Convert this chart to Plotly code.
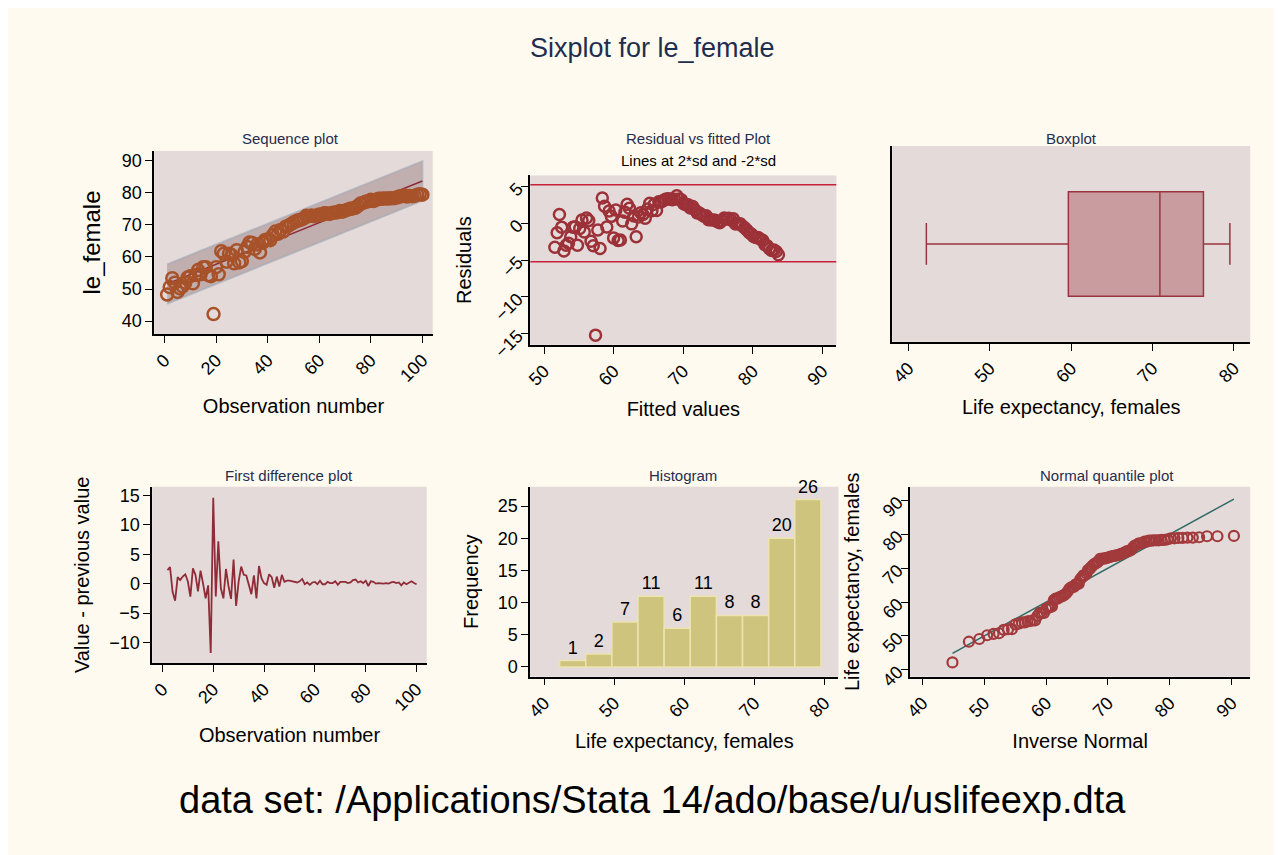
import numpy as np
import plotly.graph_objects as go
from statistics import NormalDist

le_female = [48.3,50.6,53.4,52.0,49.1,50.2,50.8,52.0,53.6,54.0,51.8,54.4,55.9,54.6,56.8,56.8,54.3,54.0,42.2,56.8,
             54.6,61.8,61.0,58.5,61.0,60.6,58.0,62.1,58.3,58.7,61.6,63.1,64.5,64.3,62.5,63.9,61.4,64.4,65.3,65.4,
             65.2,66.8,67.9,67.2,68.4,67.9,69.4,69.7,70.2,70.7,71.1,71.4,71.6,72.0,72.8,72.7,72.9,72.7,72.9,73.2,
             73.1,73.6,73.5,73.4,73.7,73.8,73.9,74.3,74.1,74.4,74.7,75.0,75.1,75.3,75.9,76.6,76.8,77.2,77.3,77.8,
             77.4,77.8,78.1,78.1,78.2,78.2,78.2,78.3,78.3,78.5,78.8,78.9,79.1,78.8,79.0,78.9,79.0,79.4,79.5,79.4]
hist_counts = [1, 2, 7, 11, 6, 11, 8, 8, 20, 26]

y = np.array(le_female)
n = len(y)
obs = np.arange(1, n + 1)
b, a = np.polyfit(obs, y, 1)
fit = a + b * obs
res = y - fit
sd = res.std(ddof=1)

PT = "#fffaef"; PB = "#e4dada"; PTS = "#a8522a"; LN = "#8f2c38"; NAVY = "#1f2d4e"
W, H = 1282, 855
def dx(p0, p1): return [p0 / W, p1 / W]
def dy(p0, p1): return [1 - p1 / H, 1 - p0 / H]

fig = go.Figure()
# 1 sequence plot
band = 1.96 * sd * 1.2
fig.add_trace(go.Scatter(x=np.r_[obs, obs[::-1]], y=np.r_[fit + band, (fit - band)[::-1]],
                         fill="toself", fillcolor="rgba(150,120,120,0.45)", line=dict(color="rgba(160,170,180,0.6)", width=2),
                         xaxis="x", yaxis="y", hoverinfo="skip"))
fig.add_trace(go.Scatter(x=obs, y=fit, mode="lines", line=dict(color=LN, width=1.5), xaxis="x", yaxis="y"))
fig.add_trace(go.Scatter(x=obs, y=y, mode="markers", marker=dict(symbol="circle-open", size=12, color=PTS, line=dict(width=2.5)),
                         xaxis="x", yaxis="y"))
# 2 residual vs fitted
fig.add_trace(go.Scatter(x=fit, y=res, mode="markers", marker=dict(symbol="circle-open", size=11, color="#9c3138", line=dict(width=2.5)),
                         xaxis="x2", yaxis="y2"))
for v in (2 * sd, -2 * sd):
    fig.add_trace(go.Scatter(x=[48, 92], y=[v, v], mode="lines", line=dict(color="#c8203a", width=1.5), xaxis="x2", yaxis="y2"))
# 3 boxplot
fig.add_trace(go.Box(x=y, y0=0, orientation="h", fillcolor="#c99ca0", line=dict(color="#9a3440", width=1.5), boxpoints=False,
                     whiskerwidth=0.4, width=0.8, xaxis="x3", yaxis="y3"))
# 4 first difference
d = np.diff(y)
fig.add_trace(go.Scatter(x=obs[1:], y=d, mode="lines", line=dict(color=LN, width=1.8), xaxis="x4", yaxis="y4"))
# 5 histogram
wbin = (y.max() - y.min()) / len(hist_counts)
centers = y.min() + wbin * (np.arange(len(hist_counts)) + 0.5)
fig.add_trace(go.Bar(x=centers, y=hist_counts, width=wbin, marker=dict(color="#cfc47e", line=dict(color="#ebe3b0", width=1.5)),
                     text=[str(c) for c in hist_counts], textposition="outside", textfont=dict(size=18, color="black"),
                     cliponaxis=False, xaxis="x5", yaxis="y5"))
# 6 normal quantile
ys = np.sort(y)
nd = NormalDist(y.mean(), y.std(ddof=1))
q = np.array([nd.inv_cdf(i / (n + 1)) for i in range(1, n + 1)])
fig.add_trace(go.Scatter(x=[q.min(), q.max()], y=[q.min(), q.max()], mode="lines", line=dict(color="#2f6b64", width=1.5),
                         xaxis="x6", yaxis="y6"))
fig.add_trace(go.Scatter(x=q, y=ys, mode="markers", marker=dict(symbol="circle-open", size=10, color="#a23a3c", line=dict(width=2.2)),
                         xaxis="x6", yaxis="y6"))

FONT = "Liberation Sans, Arial, sans-serif"
def ax(domain, title=None, tickvals=None, rng=None, angle=0, anchor=None, tsize=20, show=True):
    d = dict(domain=domain, showgrid=False, zeroline=False, showline=show, linecolor="black", linewidth=1.5,
             ticks="outside" if show else "", ticklen=7, tickcolor="black", tickfont=dict(size=18, color="black"),
             tickangle=angle, anchor=anchor, mirror=False, fixedrange=True)
    if tickvals is not None: d["tickvals"] = tickvals
    else: d["showticklabels"] = False
    if rng: d["range"] = rng
    if title: d["title"] = dict(text=title, font=dict(size=tsize, color="black"), standoff=14)
    return d

lay = dict(
    width=W, height=H, paper_bgcolor=PT, plot_bgcolor=PB, showlegend=False, margin=dict(l=0, r=0, t=0, b=0),
    font=dict(family=FONT),
    xaxis=ax(dx(140, 420), "Observation number", [0, 20, 40, 60, 80, 100], [-4, 104], -45, "y"),
    yaxis=ax(dy(145, 332), "le_female", [40, 50, 60, 70, 80, 90], [36, 93], 0, "x", tsize=24),
    xaxis2=ax(dx(518, 826), "Fitted values", [50, 60, 70, 80, 90], [48, 92], -45, "y2"),
    yaxis2=ax(dy(170, 343), "Residuals", [-15, -10, -5, 0, 5], [-16.5, 6.5], -45, "x2"),
    xaxis3=ax(dx(882, 1242), "Life expectancy, females", [40, 50, 60, 70, 80], [38, 82], -45, "y3"),
    yaxis3=ax(dy(140, 340), None, None, [-0.75, 0.75], 0, "x3"),
    xaxis4=ax(dx(138, 414), "Observation number", [0, 20, 40, 60, 80, 100], [-4, 104], -45, "y4"),
    yaxis4=ax(dy(488, 668), "Value - previous value", [-10, -5, 0, 5, 10, 15], [-13.5, 16.5], 0, "x4"),
    xaxis5=ax(dx(518, 828), "Life expectancy, females", [40, 50, 60, 70, 80], [38, 82], -45, "y5"),
    yaxis5=ax(dy(488, 682), "Frequency", [0, 5, 10, 15, 20, 25], [-1.5, 28], 0, "x5"),
    xaxis6=ax(dx(900, 1242), "Inverse Normal", [40, 50, 60, 70, 80, 90], [38, 93], -45, "y6"),
    yaxis6=ax(dy(488, 682), "Life expectancy, females", [40, 50, 60, 70, 80, 90], [38, 94], -45, "x6"),
)
lay["yaxis3"]["ticks"] = ""
fig.update_layout(**lay)

ann = [("Sixplot for le_female", 641, 40, 27, NAVY),
       ("Sequence plot", 277, 132, 15, NAVY), ("Residual vs fitted Plot", 687, 132, 15, NAVY),
       ("Lines at 2*sd and -2*sd", 687, 155, 15, "black"), ("Boxplot", 1062, 132, 15, NAVY),
       ("First difference plot", 276, 477, 15, NAVY), ("Histogram", 672, 477, 15, NAVY),
       ("Normal quantile plot", 1098, 477, 15, NAVY),
       ("data set: /Applications/Stata 14/ado/base/u/uslifeexp.dta", 641, 808, 38, "black")]
for t, px, py, s, c in ann:
    fig.add_annotation(text=t, x=px / W, y=1 - py / H, xref="paper", yref="paper", showarrow=False,
                       font=dict(size=s, color=c, family=FONT), xanchor="center", yanchor="middle")
fig.write_html("out.html")
